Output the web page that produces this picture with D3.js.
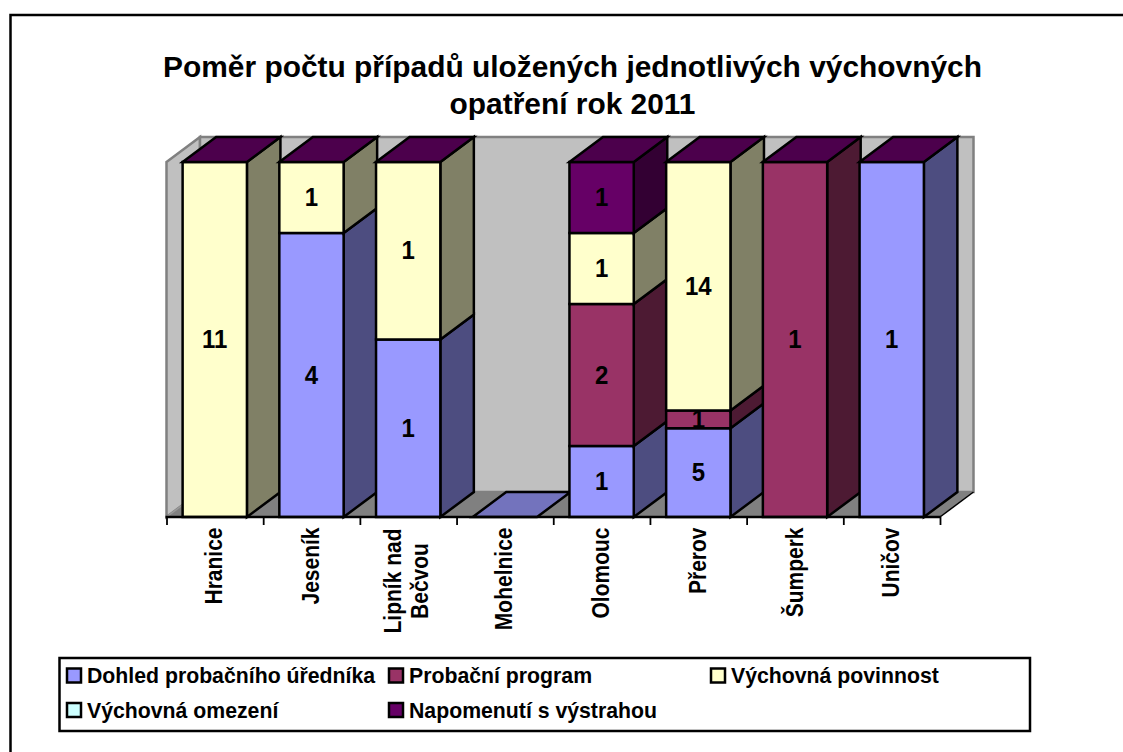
<!DOCTYPE html>
<html><head><meta charset="utf-8"><script src="https://cdn.jsdelivr.net/npm/d3@7/dist/d3.min.js"></script>
<style>html,body{margin:0;padding:0;background:#fff}svg{display:block}text{font-family:"Liberation Sans",Arial,sans-serif;font-weight:bold;fill:#000}</style></head><body>
<div id="c"></div>
<script>
const titleLines = ["Poměr počtu případů uložených jednotlivých výchovných","opatření rok 2011"];
const categories = ["Hranice","Jeseník","Lipník nad Bečvou","Mohelnice","Olomouc","Přerov","Šumperk","Uničov"];
const dohled =     [0,4,1,0,1,5,0,1];
const program =    [0,0,0,0,2,1,1,0];
const povinnost =  [11,1,1,0,1,14,0,0];
const omezeni =    [0,0,0,0,0,0,0,0];
const napomenuti = [0,0,0,0,1,0,0,0];
const seriesNames = ["Dohled probačního úředníka","Probační program","Výchovná povinnost","Výchovná omezení","Napomenutí s výstrahou"];
const seriesValues = [dohled,program,povinnost,omezeni,napomenuti];
const frontColors = ["#9999ff","#993366","#ffffcc","#ccffff","#660066"];
const sideColors =  ["#4d4d80","#4d1a33","#808066","#668080","#330033"];
const topColor = "#4c004c", emptyTopColor = "#7373bd";

const W=1123,H=752;
const svg=d3.select("#c").append("svg").attr("width",W).attr("height",H);
const DX=33.5, DY=-25, SW=2.5;
const x=d3.scaleBand().domain(categories).range([166.5,940]).paddingInner(0.335).paddingOuter(1/6);
const y=d3.scaleLinear().domain([0,1]).range([517,162]);
const pts=a=>a.map(p=>p.join(",")).join(" ");
const poly=(a,fill,stroke,sw)=>svg.append("polygon").attr("points",pts(a)).attr("fill",fill).attr("stroke",stroke||"none").attr("stroke-width",sw||0).attr("stroke-linejoin","miter");

// frame (only left and top are visible)
svg.append("path").attr("d",`M10.5,752V15H1123`).attr("fill","none").attr("stroke","#000").attr("stroke-width",2.5);

// title
svg.append("text").attr("text-anchor","middle").attr("font-size",29.9).selectAll("tspan").data(titleLines).join("tspan")
 .attr("x",572.5).attr("y",(d,i)=>76.5+i*37.5).text(d=>d);

// walls
const x0=x.range()[0],x1=x.range()[1],yb=y(0),yt=y(1);
poly([[x0,yt],[x0+DX,yt+DY],[x0+DX,yb+DY],[x0,yb]],"#c0c0c0","#808080",2.5);
poly([[x0+DX,yt+DY],[x1+DX,yt+DY],[x1+DX,yb+DY],[x0+DX,yb+DY]],"#c0c0c0","#808080",2.5);
poly([[x0,yb],[x1,yb],[x1+DX,yb+DY],[x0+DX,yb+DY]],"#808080");
svg.append("line").attr("x1",x0).attr("y1",yb).attr("x2",x0+DX).attr("y2",yb+DY).attr("stroke","#9a9a9a").attr("stroke-width",1.5);
svg.append("line").attr("x1",x1).attr("y1",yb).attr("x2",x1+DX).attr("y2",yb+DY).attr("stroke","#000").attr("stroke-width",1.5);

// bars
const bw=x.bandwidth();
const labels=[];
categories.forEach((c,i)=>{
  const vals=seriesValues.map(s=>s[i]);
  const total=d3.sum(vals);
  const L=x(c),R=L+bw;
  if(total===0){
    poly([[L,yb],[R,yb],[R+DX,yb+DY],[L+DX,yb+DY]],emptyTopColor,"#000",SW);
    return;
  }
  let cum=0;
  vals.forEach((v,k)=>{
    if(!v) return;
    const a=y(cum/total),b=y((cum+v)/total);
    poly([[R,a],[R+DX,a+DY],[R+DX,b+DY],[R,b]],sideColors[k],"#000",SW);
    poly([[L,a],[R,a],[R,b],[L,b]],frontColors[k],"#000",SW);
    labels.push({x:(L+R)/2,y:(a+b)/2,t:v});
    cum+=v;
  });
  const t=y(1);
  poly([[L,t],[R,t],[R+DX,t+DY],[L+DX,t+DY]],topColor,"#000",SW);
});

// axis baseline and ticks through d3 axis
const tickPos=d3.scaleLinear().domain([0,categories.length]).range([x0,x1]);
const axis=d3.axisBottom(tickPos).tickValues(d3.range(categories.length+1)).tickSize(8).tickFormat("");
const ag=svg.append("g").attr("transform",`translate(0,${yb})`).call(axis);
ag.selectAll("line").attr("stroke","#000").attr("stroke-width",1.8);
ag.select("path").attr("d",`M${x0-1},0H${x1+1}`).attr("stroke","#000").attr("stroke-width",2.5);

svg.append("g").selectAll("text").data(labels).join("text")
 .attr("transform",d=>`translate(${d.x},${d.y-1}) scale(1,1.1)`).attr("dy","0.36em").attr("text-anchor","middle").attr("font-size",24).text(d=>d.t);

// category labels
const wrapped={"Lipník nad Bečvou":["Lipník nad","Bečvou"]};
categories.forEach((c,i)=>{
  const lines=wrapped[c]||[c];
  const cx=x(c)+bw/2+6;
  lines.forEach((l,j)=>{
    const tx=lines.length>1?[400.5,428][j]:cx+1.5;
    const yy=lines.length>1?581:527.5;
    svg.append("text").attr("transform",`translate(${tx},${yy}) rotate(-90) scale(1,1.1)`)
     .attr("text-anchor",lines.length>1?"middle":"end").attr("font-size",21).text(l);
  });
});

// legend
svg.append("rect").attr("x",59.5).attr("y",658).attr("width",970.5).attr("height",73).attr("fill","#fff").attr("stroke","#000").attr("stroke-width",2.5);
const legX=[67,389,711], legY=[675,709.5];
seriesNames.forEach((n,i)=>{
  const col=i<3?i:i-3,row=i<3?0:1;
  svg.append("rect").attr("x",legX[col]).attr("y",legY[row]-6.5).attr("width",14).attr("height",14).attr("fill",frontColors[i]).attr("stroke","#000").attr("stroke-width",2.5);
  svg.append("text").attr("x",legX[col]+20).attr("y",legY[row]+8).attr("font-size",21.25).text(n);
});
</script></body></html>
